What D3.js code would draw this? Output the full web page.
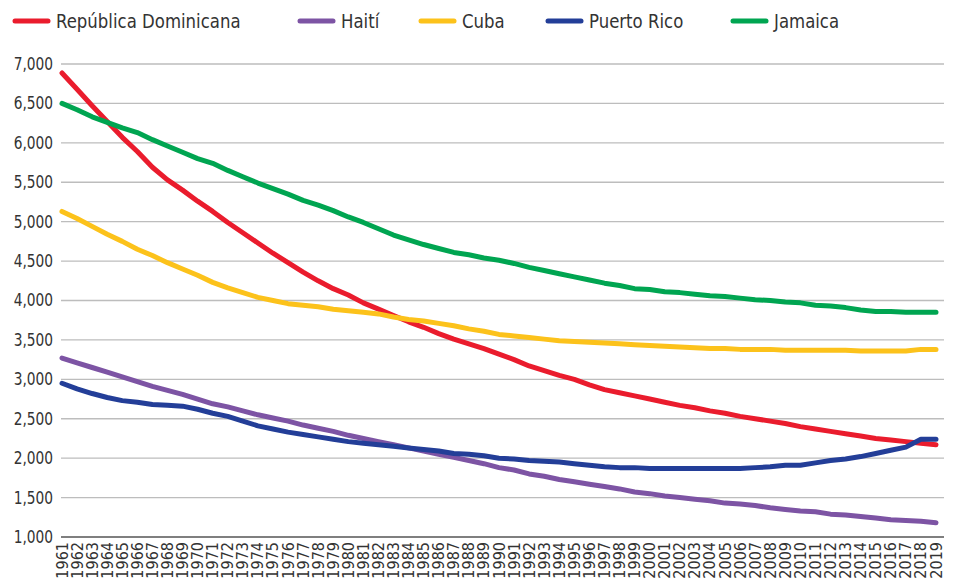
<!DOCTYPE html>
<html>
<head>
<meta charset="utf-8">
<script src="https://cdn.jsdelivr.net/npm/d3@7"></script>
<style>
  body { margin: 0; background: #fff; }
  svg text { font-family: "DejaVu Sans Condensed", "Liberation Sans Narrow", sans-serif; font-stretch: condensed; fill: #333; }
  .grid line { stroke: #bdbdbd; stroke-width: 1.3; }
  .line { fill: none; stroke-width: 5; stroke-linejoin: round; stroke-linecap: round; }
</style>
</head>
<body>
<div id="chart"></div>
<script>
var years = d3.range(1961, 2020);

var yTicks = [1000, 1500, 2000, 2500, 3000, 3500, 4000, 4500, 5000, 5500, 6000, 6500, 7000];

var seriesNames = ["República Dominicana", "Haití", "Cuba", "Puerto Rico", "Jamaica"];
var seriesColors = ["#ea1c2d", "#7d54a4", "#fcc21b", "#233e98", "#00a551"];

var dominicana = [6886, 6680, 6470, 6270, 6070, 5890, 5690, 5530, 5400, 5260,
  5130, 4990, 4860, 4730, 4600, 4480, 4360, 4250, 4150, 4070,
  3970, 3890, 3810, 3730, 3660, 3580, 3510, 3450, 3390, 3320,
  3250, 3170, 3110, 3050, 3000, 2930, 2870, 2830, 2790, 2750,
  2710, 2670, 2640, 2600, 2570, 2530, 2500, 2470, 2440, 2400,
  2370, 2340, 2310, 2280, 2250, 2230, 2210, 2190, 2170];

var haiti = [3270, 3210, 3150, 3090, 3030, 2970, 2910, 2860, 2810, 2750,
  2690, 2650, 2600, 2550, 2510, 2470, 2420, 2380, 2340, 2290,
  2250, 2210, 2170, 2130, 2090, 2050, 2010, 1970, 1930, 1880,
  1850, 1800, 1770, 1730, 1700, 1670, 1640, 1610, 1570, 1550,
  1520, 1500, 1480, 1460, 1430, 1420, 1400, 1370, 1350, 1330,
  1320, 1290, 1280, 1260, 1240, 1220, 1210, 1200, 1180];

var cuba = [5130, 5040, 4940, 4840, 4750, 4650, 4570, 4480, 4400, 4320,
  4230, 4160, 4100, 4040, 4000, 3960, 3940, 3920, 3890, 3870,
  3850, 3830, 3790, 3760, 3740, 3710, 3680, 3640, 3610, 3570,
  3550, 3530, 3510, 3490, 3480, 3470, 3460, 3450, 3440, 3430,
  3420, 3410, 3400, 3390, 3390, 3380, 3380, 3380, 3370, 3370,
  3370, 3370, 3370, 3360, 3360, 3360, 3360, 3380, 3380];

var puertoRico = [2950, 2880, 2820, 2770, 2730, 2710, 2680, 2670, 2660, 2620,
  2570, 2530, 2470, 2410, 2370, 2330, 2300, 2270, 2240, 2210,
  2190, 2170, 2150, 2130, 2110, 2090, 2060, 2050, 2030, 2000,
  1990, 1970, 1960, 1950, 1930, 1910, 1890, 1880, 1880, 1870,
  1870, 1870, 1870, 1870, 1870, 1870, 1880, 1890, 1910, 1910,
  1940, 1970, 1990, 2020, 2060, 2100, 2140, 2240, 2240];

var jamaica = [6500, 6420, 6330, 6260, 6190, 6130, 6040, 5960, 5880, 5800,
  5740, 5650, 5570, 5490, 5420, 5350, 5270, 5210, 5140, 5060,
  4990, 4910, 4830, 4770, 4710, 4660, 4610, 4580, 4540, 4510,
  4470, 4420, 4380, 4340, 4300, 4260, 4220, 4190, 4150, 4140,
  4110, 4100, 4080, 4060, 4050, 4030, 4010, 4000, 3980, 3970,
  3940, 3930, 3910, 3880, 3860, 3860, 3850, 3850, 3850];

var seriesValues = [dominicana, haiti, cuba, puertoRico, jamaica];

var width = 966, height = 579;

var svg = d3.select("#chart").append("svg")
  .attr("width", width).attr("height", height);

var x = d3.scalePoint().domain(years).range([62, 936]);
var y = d3.scaleLinear().domain([1000, 7000]).range([537, 64]);

// gridlines + y labels
var grid = svg.append("g").attr("class", "grid");
grid.selectAll("line").data(yTicks).enter().append("line")
  .attr("x1", 61).attr("x2", 944)
  .attr("y1", function(d) { return y(d); })
  .attr("y2", function(d) { return y(d); })
  .style("stroke", function(d) { return d === 1000 ? "#555" : null; });

svg.append("g").selectAll("text").data(yTicks).enter().append("text")
  .attr("transform", function(d) { return "translate(53," + y(d) + ") scale(0.9,1)"; })
  .attr("dy", "0.35em")
  .attr("text-anchor", "end")
  .style("font-size", "17px")
  .text(d3.format(","));

// x labels, rotated
svg.append("g").selectAll("text").data(years).enter().append("text")
  .attr("transform", function(d) { return "translate(" + (x(d) + 5.5) + ",542) rotate(-90)"; })
  .attr("text-anchor", "end")
  .style("font-size", "16px")
  .text(function(d) { return d; });

// lines
var line = d3.line()
  .x(function(d, i) { return x(years[i]); })
  .y(function(d) { return y(d); });

svg.append("g").selectAll("path").data(seriesValues).enter().append("path")
  .attr("class", "line")
  .attr("stroke", function(d, i) { return seriesColors[i]; })
  .attr("d", line);

// legend
var legendX = [15, 300, 421, 548, 733];
var legend = svg.append("g").selectAll("g").data(seriesNames).enter().append("g")
  .attr("transform", function(d, i) { return "translate(" + legendX[i] + ",21)"; });
legend.append("line")
  .attr("x1", 0).attr("x2", 33)
  .attr("stroke", function(d, i) { return seriesColors[i]; })
  .attr("stroke-width", 5).attr("stroke-linecap", "round");
legend.append("text")
  .attr("transform", "translate(41,0) scale(0.92,1)")
  .attr("dy", "0.35em")
  .style("font-size", "20px")
  .text(function(d) { return d; });
</script>
</body>
</html>
